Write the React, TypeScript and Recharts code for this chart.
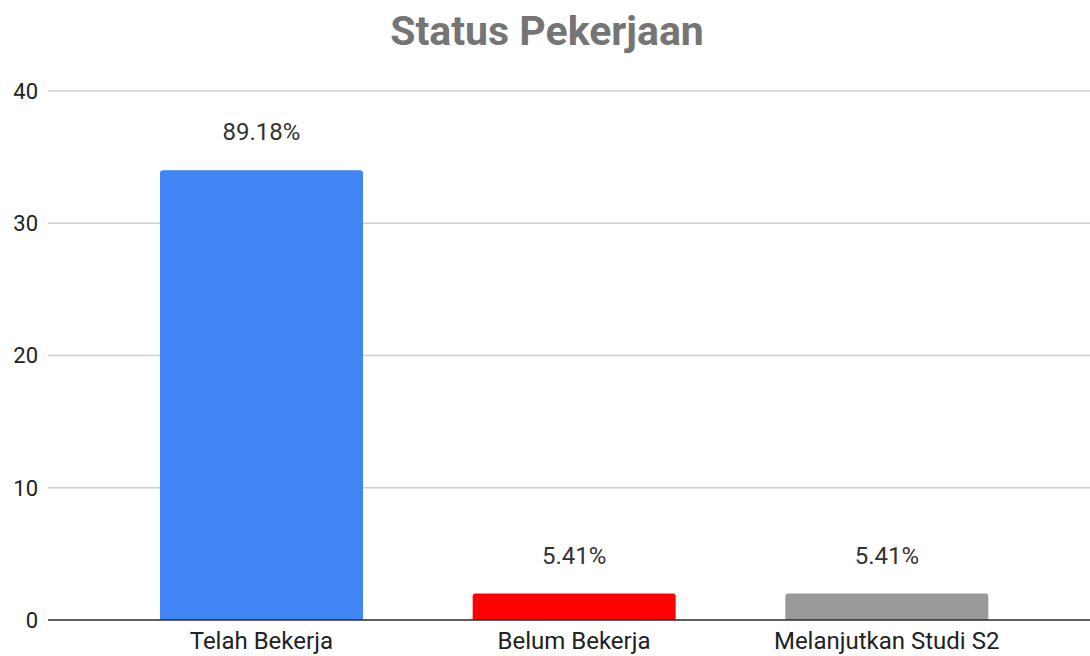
import { Bar, BarChart, CartesianGrid, Cell, LabelList, XAxis, YAxis } from "recharts";

const categories = ["Telah Bekerja", "Belum Bekerja", "Melanjutkan Studi S2"];
const counts = [34, 2, 2];
const percentLabels = ["89.18%", "5.41%", "5.41%"];
const barColors = ["#4285f4", "#ff0000", "#999999"];
const yTicks = [0, 10, 20, 30, 40];

const FONT = "Roboto, 'Noto Sans', Arial, sans-serif";

export default function App() {
  const data = categories.map((name, i) => ({
    name,
    count: counts[i],
    pct: percentLabels[i],
  }));

  return (
    <div
      style={{
        position: "absolute",
        left: 0,
        top: 0,
        width: 1090,
        height: 656,
        background: "#fff",
        fontFamily: FONT,
      }}
    >
      <BarChart
        width={1090}
        height={656}
        data={data}
        margin={{ top: 91, right: 0, bottom: 0, left: 0 }}
      >
        <CartesianGrid vertical={false} stroke="#d0d0d0" strokeWidth={1.5} />
        <XAxis
          dataKey="name"
          height={36}
          padding={{ left: 57, right: 47 }}
          tickSize={0}
          tickMargin={12}
          axisLine={{ stroke: "#333", strokeWidth: 1.5 }}
          tick={{ fontSize: 24, fill: "#222", fontFamily: FONT }}
          interval={0}
        />
        <YAxis
          width={48}
          domain={[0, 40]}
          ticks={yTicks}
          tickSize={0}
          tickMargin={10}
          axisLine={false}
          tick={{ fontSize: 22, fill: "#222", fontFamily: FONT }}
        />
        <Bar dataKey="count" barSize={203} radius={[3, 3, 0, 0]} isAnimationActive={false}>
          {data.map((d, i) => (
            <Cell key={d.name} fill={barColors[i]} />
          ))}
          <LabelList
            dataKey="pct"
            position="top"
            offset={30}
            style={{ fontSize: 24, fill: "#333", fontFamily: FONT }}
          />
        </Bar>
      </BarChart>
      <svg
        width={1090}
        height={70}
        style={{ position: "absolute", left: 0, top: 0, pointerEvents: "none" }}
      >
        <text
          x={547}
          y={45}
          textAnchor="middle"
          fontFamily={FONT}
          fontWeight="bold"
          fontSize={41}
          fill="#757575"
        >
          Status Pekerjaan
        </text>
      </svg>
    </div>
  );
}
